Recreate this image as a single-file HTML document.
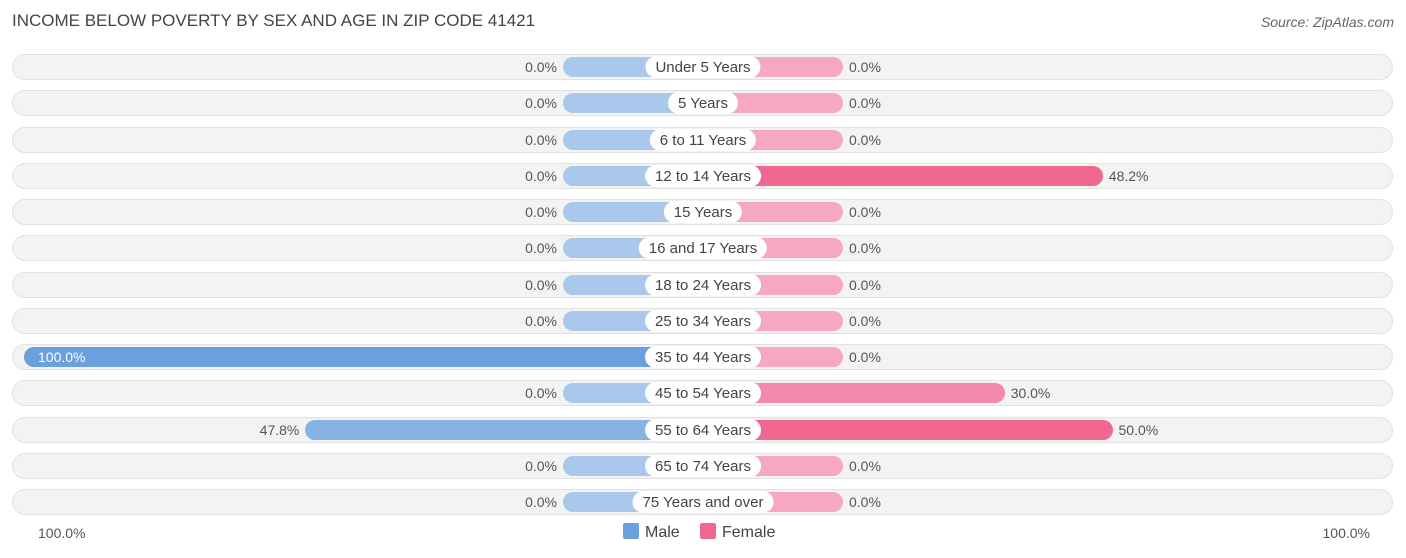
<!DOCTYPE html>
<html><head><meta charset="utf-8"><style>
body{margin:0;background:#fff;font-family:"Liberation Sans",Arial,sans-serif;}
#c{position:relative;width:1406px;height:558px;overflow:hidden;}
.t{position:absolute;white-space:nowrap;}
</style></head><body>
<div id="c">
<div class="t" style="left:12px;top:11px;font-size:17px;color:#444;">INCOME BELOW POVERTY BY SEX AND AGE IN ZIP CODE 41421</div>
<div class="t" style="right:12px;top:14px;font-size:14px;color:#666;font-style:italic;">Source: ZipAtlas.com</div>
<div id="rows"></div>
<div class="t" style="left:38px;top:525px;font-size:14px;color:#555;">100.0%</div>
<div class="t" style="right:36px;top:525px;font-size:14px;color:#555;">100.0%</div>
<div class="t" style="left:623px;top:523px;font-size:16px;color:#444;"><span style="display:inline-block;width:16px;height:16px;background:#6aa0dc;border-radius:2px;vertical-align:-2px;margin-right:6px;"></span>Male</div>
<div class="t" style="left:700px;top:523px;font-size:16px;color:#444;"><span style="display:inline-block;width:16px;height:16px;background:#f06890;border-radius:2px;vertical-align:-2px;margin-right:6px;"></span>Female</div>
</div>
<script>
const categories=["Under 5 Years","5 Years","6 to 11 Years","12 to 14 Years","15 Years","16 and 17 Years","18 to 24 Years","25 to 34 Years","35 to 44 Years","45 to 54 Years","55 to 64 Years","65 to 74 Years","75 Years and over"];
const maleValues=[0,0,0,0,0,0,0,0,100,0,47.8,0,0];
const femaleValues=[0,0,0,48.2,0,0,0,0,0,30,50,0,0];
const cx=703,stub=140,full=679,y0=67,step=36.25;
function len(v){return stub+v/100*(full-stub);}
const rows=document.getElementById('rows');
function mk(tag,css,txt){const e=document.createElement(tag);e.style.cssText=css;if(txt!==undefined)e.textContent=txt;rows.appendChild(e);return e;}
categories.forEach((cat,i)=>{
  const y=y0+i*step;
  const bg=mk('div',`position:absolute;left:12px;width:1381px;top:${y-13}px;height:26px;border-radius:13px;background:#f3f3f3;box-shadow:inset 0 0 0 1px #e2e2e2;`);
  
  
  const m=maleValues[i],f=femaleValues[i];
  const ml=len(m),fl=len(f);
  const mc=m>0?(m>=90?'#6aa0dc':'#86b2e4'):'#aac8ec';
  const fc=f>0?(f>=40?'#f06890':'#f48aab'):'#f5a8c0';
  const mb=mk('div',`position:absolute;left:${cx-ml}px;width:${ml}px;top:${y-10}px;height:20px;border-radius:10px;background:${mc};`);
  
  
  const fb=mk('div',`position:absolute;left:${cx}px;width:${fl}px;top:${y-10}px;height:20px;border-radius:10px;background:${fc};`);
  
  
  const lab=mk('div',`position:absolute;left:${cx}px;top:${y-11}px;height:22px;line-height:24px;transform:translateX(-50%);padding:0 10px;border-radius:11px;background:#fff;font-size:15px;color:#444;white-space:nowrap;`,cat);
  
  
  let mv;
  if(m>=90){mv=mk('div',`position:absolute;left:${cx-ml+14}px;top:${y-8}px;font-size:14px;color:#fff;`,m.toFixed(1)+'%');}
  else{mv=mk('div',`position:absolute;right:${1406-(cx-ml)+6}px;top:${y-8}px;font-size:14px;color:#555;`,m.toFixed(1)+'%');}
  
  
  const fv=mk('div',`position:absolute;left:${cx+fl+6}px;top:${y-8}px;font-size:14px;color:#555;`,f.toFixed(1)+'%');
  
  
});
</script>
</body></html>
